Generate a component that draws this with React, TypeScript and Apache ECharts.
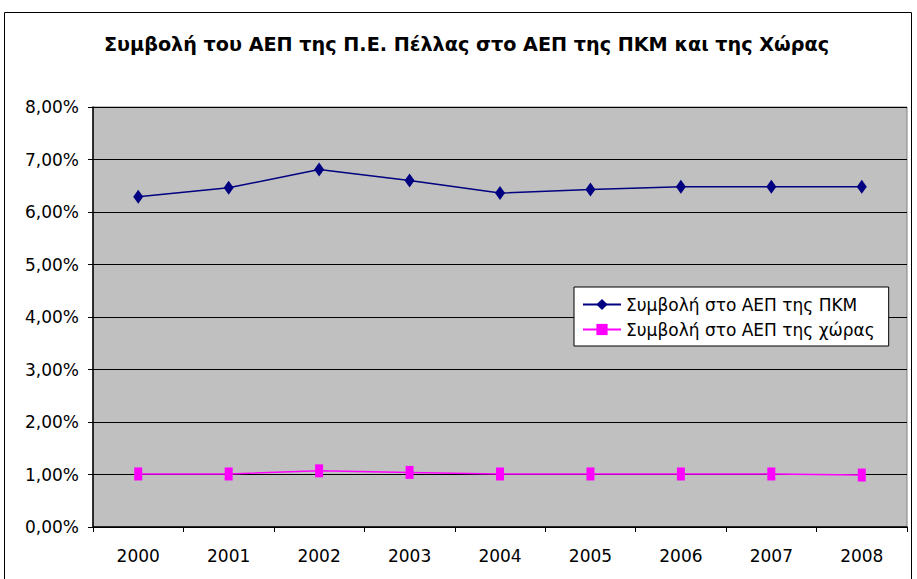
import React, { useEffect, useRef } from "react";
import * as echarts from "echarts";

const years = ["2000", "2001", "2002", "2003", "2004", "2005", "2006", "2007", "2008"];
const pkmShare = [6.29, 6.46, 6.81, 6.6, 6.36, 6.43, 6.48, 6.48, 6.48];
const countryShare = [1.01, 1.01, 1.07, 1.04, 1.01, 1.01, 1.01, 1.01, 0.99];
const seriesNames = ["Συμβολή στο ΑΕΠ της ΠΚΜ", "Συμβολή στο ΑΕΠ της χώρας"];
const titleText = "Συμβολή του ΑΕΠ της Π.Ε. Πέλλας στο ΑΕΠ της ΠΚΜ και της Χώρας";

const FONT = "'DejaVu Sans', sans-serif";

export default function App() {
  const ref = useRef<HTMLDivElement>(null);
  useEffect(() => {
    document.body.style.margin = "0";
    if (!ref.current) return;
    const chart = echarts.init(ref.current, undefined, { renderer: "svg" });
    chart.setOption({
      animation: false,
      backgroundColor: "#ffffff",
      title: {
        text: titleText,
        left: 104,
        top: 35,
        padding: 0,
        textStyle: { fontFamily: FONT, fontSize: 19.2, fontWeight: "bold", color: "#000" },
      },
      graphic: [
        {
          type: "rect",
          shape: { x: 4.5, y: 12.5, width: 907, height: 600 },
          style: { fill: "none", stroke: "#000", lineWidth: 1 },
          z: 100,
        },
      ],
      grid: {
        left: 93,
        right: 10,
        top: 107,
        bottom: 52,
        show: true,
        backgroundColor: "#C0C0C0",
        borderColor: "#808080",
        borderWidth: 1,
      },
      legend: {
        orient: "vertical",
        left: 574,
        top: 287,
        backgroundColor: "#ffffff",
        borderColor: "#000",
        borderWidth: 1,
        padding: [9, 14, 8, 8],
        itemGap: 8,
        itemWidth: 38,
        itemHeight: 14,
        textStyle: { fontFamily: FONT, fontSize: 17, color: "#000" },
        data: seriesNames,
      },
      xAxis: {
        type: "category",
        data: years,
        boundaryGap: true,
        axisLine: { lineStyle: { color: "#000", width: 1.5 } },
        axisTick: { show: true, length: 5, inside: false, lineStyle: { color: "#000" } },
        axisLabel: { fontFamily: FONT, fontSize: 17, color: "#000", margin: 20 },
        splitLine: { show: false },
      },
      yAxis: {
        type: "value",
        min: 0,
        max: 8,
        interval: 1,
        axisLine: { show: true, lineStyle: { color: "#000", width: 1.5 } },
        axisTick: { show: true, length: 5, lineStyle: { color: "#000" } },
        axisLabel: {
          fontFamily: FONT,
          fontSize: 17,
          color: "#000",
          margin: 14,
          formatter: (v: number) => v.toFixed(2).replace(".", ",") + "%",
        },
        splitLine: { show: true, lineStyle: { color: "#000", width: 1.2 } },
      },
      series: [
        {
          name: seriesNames[0],
          type: "line",
          data: pkmShare,
          symbol: "diamond",
          symbolSize: [10, 14],
          itemStyle: { color: "#000080" },
          lineStyle: { color: "#000080", width: 1.5 },
        },
        {
          name: seriesNames[1],
          type: "line",
          data: countryShare,
          symbol: "rect",
          symbolSize: [8, 13],
          itemStyle: { color: "#FF00FF" },
          lineStyle: { color: "#FF00FF", width: 1.5 },
        },
      ],
    });
    return () => chart.dispose();
  }, []);
  return <div ref={ref} style={{ width: 917, height: 579 }} />;
}
